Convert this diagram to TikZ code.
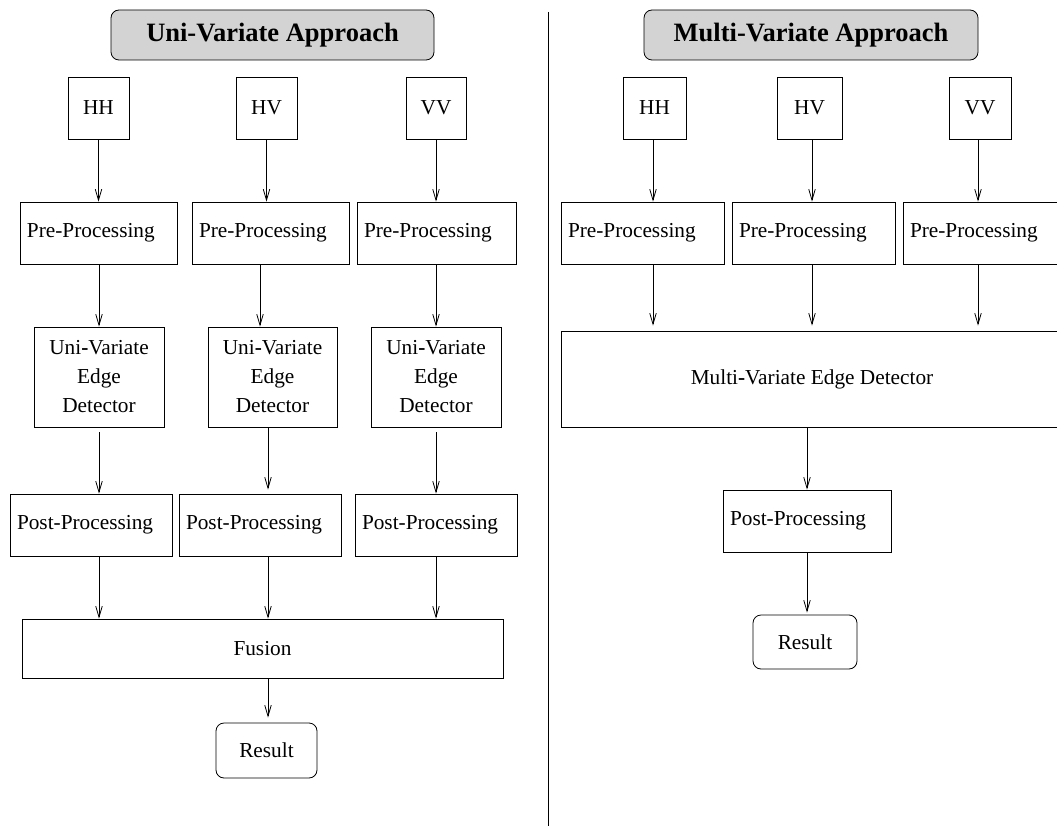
\documentclass[tikz,border=0pt]{standalone}
\usepackage{fontspec}
\setmainfont{Liberation Serif}
\usetikzlibrary{arrows.meta}
\definecolor{titlegray}{RGB}{211,211,211}
\tikzset{
  box/.style={draw, line width=0.8pt, inner sep=0pt, align=center, font=\fontsize{21.3}{29}\selectfont},
  pbox/.style={box, inner xsep=7pt, inner ysep=0pt, align=left, minimum height=62pt, text width=#1},
  titlebox/.style={draw, line width=0.8pt, rounded corners=8pt, fill=titlegray, inner sep=0pt, font=\fontsize{26.5}{32}\selectfont\bfseries},
  resbox/.style={box, rounded corners=8pt},
  arr/.style={draw, line width=0.8pt, -{Straight Barb[length=11pt,width=6.5pt,line width=0.8pt]}},
}
\begin{document}
\begin{tikzpicture}[x=1pt,y=-1pt]
\useasboundingbox (0,0) rectangle (1057,826);
% divider
\coordinate (dtop) at (548.5,12);
\coordinate (dbot) at (548.5,826);
\draw[line width=0.9pt] (dtop) -- (dbot);
% column x coordinates
\coordinate (xa) at (99,0);
\coordinate (xb) at (268,0);
\coordinate (xc) at (436,0);
\coordinate (xd) at (260,0);
\coordinate (xr1) at (653,0);
\coordinate (xr2) at (812,0);
\coordinate (xr3) at (978,0);
\coordinate (xr4) at (807,0);

% ---------------- Left: Uni-Variate ----------------
\node[titlebox, minimum width=323pt, minimum height=50pt] (t1) at (272.5,35) {Uni-Variate Approach};
\node[box, minimum width=61pt, minimum height=62pt] (hh1) at (98.5,108) {HH};
\node[box, minimum width=61pt, minimum height=62pt] (hv1) at (266.5,108) {HV};
\node[box, minimum width=60pt, minimum height=62pt] (vv1) at (436,108) {VV};

\node[pbox=143pt] (pre1) at (98.5,233) {Pre-Processing};
\node[pbox=143pt] (pre2) at (270.5,233) {Pre-Processing};
\node[pbox=145pt] (pre3) at (436.5,233) {Pre-Processing};

\node[box, minimum width=130pt, minimum height=100pt] (uv1) at (99,377) {Uni\textbf{-}Variate\\Edge\\Detector};
\node[box, minimum width=129pt, minimum height=100pt] (uv2) at (272.5,377) {Uni\textbf{-}Variate\\Edge\\Detector};
\node[box, minimum width=130pt, minimum height=100pt] (uv3) at (436,377) {Uni\textbf{-}Variate\\Edge\\Detector};

\node[pbox=148pt] (post1) at (91,525) {Post-Processing};
\node[pbox=148pt] (post2) at (260,525) {Post-Processing};
\node[pbox=148pt] (post3) at (436,525) {Post-Processing};

\node[box, minimum width=481pt, minimum height=59pt] (fus) at (262.5,648.5) {Fusion};
\node[resbox, minimum width=101pt, minimum height=55pt] (res1) at (266.5,750.5) {Result};

\draw[arr] (hh1.south) -- (hh1.south |- pre1.north);
\draw[arr] (hv1.south) -- (hv1.south |- pre2.north);
\draw[arr] (vv1.south) -- (vv1.south |- pre3.north);
\draw[arr] (pre1.south -| xa) -- (uv1.north -| xa);
\draw[arr] (pre2.south -| xd) -- (uv2.north -| xd);
\draw[arr] (pre3.south -| xc) -- (uv3.north -| xc);
\draw[arr, shorten <=5pt] (uv1.south -| xa) -- (post1.north -| xa);
\draw[arr, shorten >=4pt] (uv2.south -| xb) -- (post2.north -| xb);
\draw[arr, shorten <=5pt] (uv3.south -| xc) -- (post3.north -| xc);
\draw[arr] (post1.south -| xa) -- (fus.north -| xa);
\draw[arr] (post2.south -| xb) -- (fus.north -| xb);
\draw[arr] (post3.south -| xc) -- (fus.north -| xc);
\draw[arr, shorten >=5pt] (fus.south -| xb) -- (res1.north -| xb);

% ---------------- Right: Multi-Variate ----------------
\node[titlebox, minimum width=334pt, minimum height=50pt] (t2) at (811,35) {Multi-Variate Approach};
\node[box, minimum width=63pt, minimum height=62pt] (hh2) at (654.5,108) {HH};
\node[box, minimum width=65pt, minimum height=62pt] (hv2) at (809.5,108) {HV};
\node[box, minimum width=62pt, minimum height=62pt] (vv2) at (980,108) {VV};

\node[pbox=149pt] (pre4) at (642.5,233) {Pre-Processing};
\node[pbox=149pt] (pre5) at (813.5,233) {Pre-Processing};
\node[pbox=149pt] (pre6) at (984.5,233) {Pre-Processing};

\node[box, minimum width=502pt, minimum height=96pt] (mv) at (812,379) {Multi\textbf{-}Variate Edge Detector};
\node[pbox=154pt] (postr) at (807,521) {Post-Processing};
\node[resbox, minimum width=104pt, minimum height=54pt] (res2) at (805,642) {Result};

\draw[arr] (hh2.south -| xr1) -- (pre4.north -| xr1);
\draw[arr] (hv2.south -| xr2) -- (pre5.north -| xr2);
\draw[arr] (vv2.south -| xr3) -- (pre6.north -| xr3);
\draw[arr, shorten >=5pt] (pre4.south -| xr1) -- (mv.north -| xr1);
\draw[arr, shorten >=5pt] (pre5.south -| xr2) -- (mv.north -| xr2);
\draw[arr, shorten >=5pt] (pre6.south -| xr3) -- (mv.north -| xr3);
\draw[arr] (mv.south -| xr4) -- (postr.north -| xr4);
\draw[arr, shorten >=2pt] (postr.south -| xr4) -- (res2.north -| xr4);
\end{tikzpicture}
\end{document}
